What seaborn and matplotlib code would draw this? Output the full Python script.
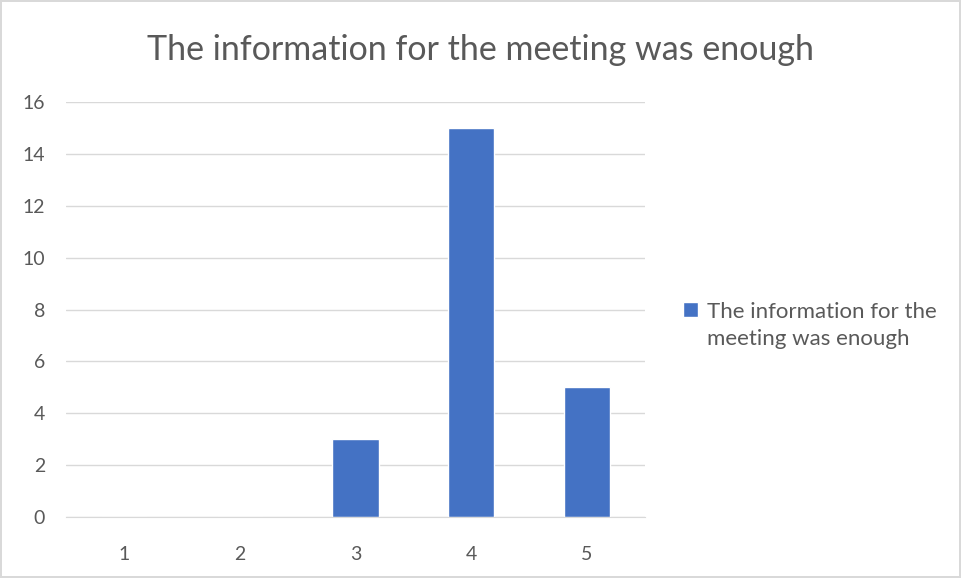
import pandas as pd
import seaborn as sns
import matplotlib.pyplot as plt

categories = ["1", "2", "3", "4", "5"]
counts = [0, 0, 3, 15, 5]
series_name = "The information for the meeting was enough"

df = pd.DataFrame({"Rating": categories, "Count": counts})

sns.set_style("white")
plt.rcParams['font.family'] = ['Lato', 'DejaVu Sans']
text_col = "#595959"

fig = plt.figure(figsize=(9.61, 5.78), dpi=100)
fig.patch.set_edgecolor("#D9D9D9")
fig.patch.set_linewidth(1.5)
ax = fig.add_axes([0.0687, 0.1055, 0.6023, 0.718])

sns.barplot(data=df, x="Rating", y="Count", color="#4472C4", width=0.4,
            saturation=1, ax=ax, label="The information for the\nmeeting was enough",
            legend=False)
if ax.get_legend() is not None:
    ax.get_legend().remove()

ax.set_ylim(0, 16)
ax.set_yticks(range(0, 17, 2))
ax.grid(axis="y", color="#D9D9D9", linewidth=1)
ax.set_axisbelow(True)
for s in ["top", "right", "left"]:
    ax.spines[s].set_visible(False)
ax.spines["bottom"].set_color("#D9D9D9")
ax.tick_params(axis="both", length=0, labelsize=14, colors=text_col)
ax.tick_params(axis="y", pad=15)
ax.tick_params(axis="x", pad=21)
ax.set_xlabel("")
ax.set_ylabel("")

fig.suptitle(series_name, x=0.5, y=0.942, fontsize=24.5, color=text_col)

h, l = ax.get_legend_handles_labels()
leg = fig.legend(h, l, loc="center left", bbox_to_anchor=(0.711, 0.437), frameon=False,
                 fontsize=16, handlelength=0.65, handleheight=0.65, handletextpad=0.4,
                 labelcolor=text_col, borderpad=0, borderaxespad=0)
for t in leg.get_texts():
    t.set_linespacing(1.45)
# put the square next to the first line, like Excel does
for col in leg._legend_handle_box.get_children():
    for row in col.get_children():
        row.align = "top"

fig.savefig("out.png", dpi=100)
